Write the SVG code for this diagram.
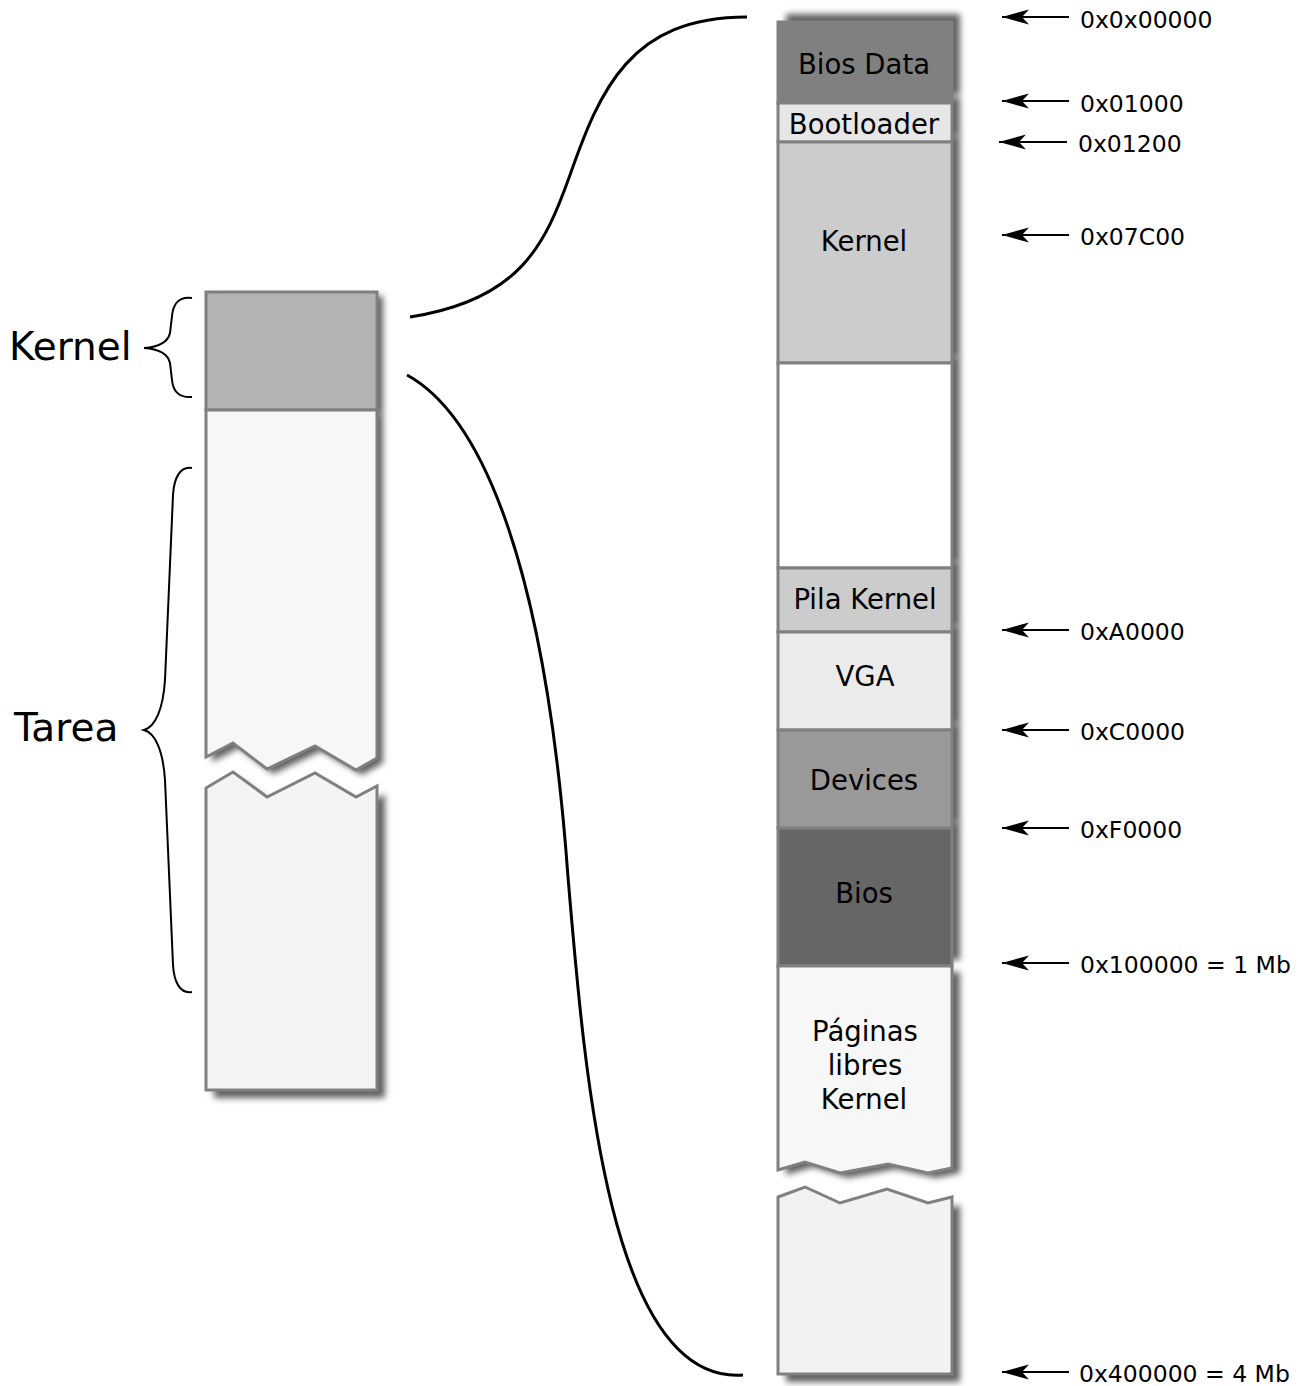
<svg xmlns="http://www.w3.org/2000/svg" width="1302" height="1386" viewBox="0 0 1302 1386">
<style>
.blk{stroke:#808080;stroke-width:3;}
.lbl{font-family:"DejaVu Sans","Liberation Sans",sans-serif;font-size:27.5px;fill:#000;text-anchor:middle;}
.big{font-family:"DejaVu Sans","Liberation Sans",sans-serif;font-size:39px;fill:#000;}
.addr{font-family:"DejaVu Sans","Liberation Sans",sans-serif;font-size:23.5px;fill:#000;}
.sh{fill:#000;fill-opacity:0.62;filter:url(#blur);}
.conn{fill:none;stroke:#000;stroke-width:3;}
.brace{fill:none;stroke:#000;stroke-width:2;}
.arr{stroke:#000;stroke-width:2;marker-start:url(#ah);}
</style>
<defs>
<filter id="blur" filterUnits="userSpaceOnUse" x="0" y="0" width="1302" height="1386">
<feGaussianBlur stdDeviation="3"/>
</filter>
<marker id="ah" viewBox="0 0 28 16" refX="27" refY="8" markerWidth="28" markerHeight="16" markerUnits="userSpaceOnUse" orient="auto-start-reverse">
<path d="M27,8 L0,0.5 L7,8 L0,15.5 Z" fill="#000"/>
</marker>
</defs>
<rect width="1302" height="1386" fill="#fff"/>

<g id="shadows">
<rect class="sh" x="212" y="296" width="171" height="118"/>
<path class="sh" d="M212,414 L212,762 L239,748 L273,774 L321,751 L362,775 L383,763 L383,414 Z"/>
<path class="sh" d="M214,796 L241,780 L275,805 L323,781 L364,805 L385,794 L385,1098 L214,1098 Z"/>
<rect class="sh" x="786" y="14" width="174" height="81"/>
<rect class="sh" x="786" y="97" width="174" height="39"/>
<rect class="sh" x="786" y="136" width="174" height="221"/>
<rect class="sh" x="786" y="357" width="174" height="205"/>
<rect class="sh" x="786" y="562" width="174" height="64"/>
<rect class="sh" x="786" y="626" width="174" height="98"/>
<rect class="sh" x="786" y="724" width="174" height="98"/>
<rect class="sh" x="786" y="822" width="174" height="138"/>
<path class="sh" d="M786,972 L786,1175 L813,1167 L848,1178 L896,1169 L936,1178 L960,1173 L960,972 Z"/>
<path class="sh" d="M786,1205 L813,1195 L848,1211 L895,1197 L936,1211 L960,1205 L960,1382 L786,1382 Z"/>
</g>

<g id="left-kernel">
<rect class="blk" x="206" y="292" width="171" height="118" fill="#b3b3b3"/>
</g>
<g id="left-tarea-top">
<path class="blk" d="M206,410 L206,757 L233,743 L267,769 L315,746 L356,770 L377,758 L377,410 Z" fill="#f7f7f7"/>
</g>
<g id="left-tarea-bottom">
<path class="blk" d="M206,788 L233,772 L267,797 L315,773 L356,797 L377,786 L377,1090 L206,1090 Z" fill="#f4f4f4"/>
</g>

<g id="bios-data">
<rect class="blk" x="778" y="22" width="174" height="81" fill="#808080"/>
<text class="lbl" x="864" y="74">Bios Data</text>
</g>
<g id="bootloader">
<rect class="blk" x="778" y="103" width="174" height="39" fill="#e6e6e6"/>
<text class="lbl" x="864" y="134">Bootloader</text>
</g>
<g id="kernel">
<rect class="blk" x="778" y="142" width="174" height="221" fill="#cccccc"/>
<text class="lbl" x="864" y="251">Kernel</text>
</g>
<g id="free">
<rect class="blk" x="778" y="363" width="174" height="205" fill="#ffffff"/>
</g>
<g id="pila-kernel">
<rect class="blk" x="778" y="568" width="174" height="64" fill="#cccccc"/>
<text class="lbl" x="865" y="609">Pila Kernel</text>
</g>
<g id="vga">
<rect class="blk" x="778" y="632" width="174" height="98" fill="#ebebeb"/>
<text class="lbl" x="865" y="686">VGA</text>
</g>
<g id="devices">
<rect class="blk" x="778" y="730" width="174" height="98" fill="#999999"/>
<text class="lbl" x="864" y="790">Devices</text>
</g>
<g id="bios">
<rect class="blk" x="778" y="828" width="174" height="138" fill="#666666"/>
<text class="lbl" x="864" y="903">Bios</text>
</g>
<g id="paginas">
<path class="blk" d="M778,966 L778,1170 L805,1162 L840,1173 L888,1164 L928,1173 L952,1168 L952,966 Z" fill="#f7f7f7"/>
<text class="lbl" x="865" y="1041">Páginas</text>
<text class="lbl" x="865" y="1075">libres</text>
<text class="lbl" x="864" y="1109">Kernel</text>
</g>
<g id="paginas-bottom">
<path class="blk" d="M778,1197 L805,1187 L840,1203 L887,1189 L928,1203 L952,1197 L952,1374 L778,1374 Z" fill="#f2f2f2"/>
</g>

<g id="labels-left">
<text class="big" x="9" y="360">Kernel</text>
<text class="big" x="14" y="741">Tarea</text>
</g>

<g id="connectors">
<path class="brace" d="M192,298 C178,296 173,305 172,316 L170,333 C168,342 158,347 144,348 C158,349 168,354 170,363 L172,380 C173,391 178,398 192,397"/>
<path class="brace" d="M192,468 C180,466 174,478 173,495 L165,680 C163,710 155,727 144,730 C155,733 163,750 165,780 L173,965 C174,982 180,994 192,992"/>
<path class="conn" d="M410,317 C520,300 545,245 570,175 C600,90 630,17 747,17"/>
<path class="conn" d="M407,375 C480,415 545,560 568,877 C585,1080 610,1385 743,1375"/>
<line class="arr" x1="1002" y1="17" x2="1069" y2="17"/>
<line class="arr" x1="1002" y1="101" x2="1069" y2="101"/>
<line class="arr" x1="999" y1="142" x2="1067" y2="142"/>
<line class="arr" x1="1002" y1="235" x2="1069" y2="235"/>
<line class="arr" x1="1002" y1="630" x2="1069" y2="630"/>
<line class="arr" x1="1002" y1="730" x2="1069" y2="730"/>
<line class="arr" x1="1002" y1="828" x2="1069" y2="828"/>
<line class="arr" x1="1002" y1="963" x2="1069" y2="963"/>
<line class="arr" x1="1002" y1="1372" x2="1069" y2="1372"/>
</g>

<g id="addresses">
<text class="addr" x="1080" y="28">0x0x00000</text>
<text class="addr" x="1080" y="112">0x01000</text>
<text class="addr" x="1078" y="152">0x01200</text>
<text class="addr" x="1080" y="245">0x07C00</text>
<text class="addr" x="1080" y="640">0xA0000</text>
<text class="addr" x="1080" y="740">0xC0000</text>
<text class="addr" x="1080" y="838">0xF0000</text>
<text class="addr" x="1080" y="973">0x100000 = 1 Mb</text>
<text class="addr" x="1079" y="1382">0x400000 = 4 Mb</text>
</g>
</svg>
